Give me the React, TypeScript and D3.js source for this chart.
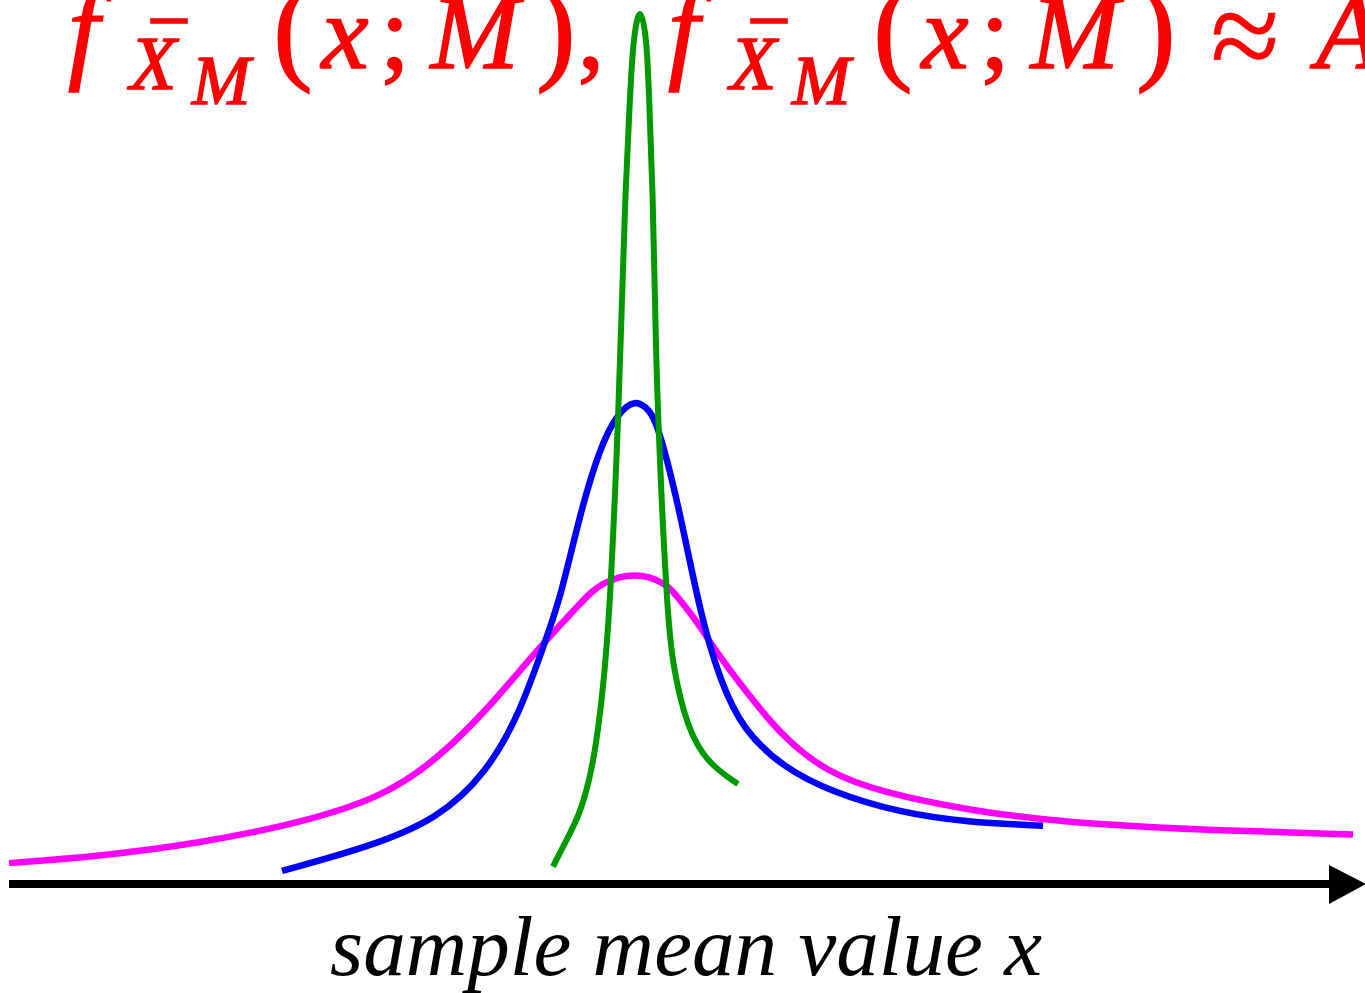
import React, { useEffect, useRef } from "react";
import * as d3 from "d3";

// sample mean x, density (peak of narrowest curve ~ 1)
const wideX = [-6.26, -5.35, -4.35, -3.35, -2.52, -1.98, -1.48, -0.98, -0.52, -0.35, 0, 0.32, 0.45, 0.62, 0.78, 1.15, 1.48, 1.92, 2.48, 3.32, 4.25, 5.65, 7.18];
const wideY = [0.024, 0.032, 0.047, 0.07, 0.1, 0.143, 0.2, 0.269, 0.326, 0.346, 0.359, 0.346, 0.326, 0.302, 0.272, 0.215, 0.169, 0.128, 0.105, 0.085, 0.071, 0.062, 0.057];

const midX = [-3.53, -2.65, -1.98, -1.48, -1.15, -0.92, -0.75, -0.55, -0.35, -0.18, 0, 0.15, 0.22, 0.42, 0.65, 0.85, 1.08, 1.48, 1.98, 2.65, 3.32, 4.08];
const midY = [0.015, 0.043, 0.074, 0.128, 0.197, 0.272, 0.326, 0.426, 0.502, 0.54, 0.558, 0.544, 0.53, 0.445, 0.311, 0.234, 0.177, 0.134, 0.105, 0.082, 0.071, 0.067];

const narrowX = [-0.82, -0.68, -0.55, -0.42, -0.33, -0.25, -0.16, -0.13, -0.1, -0.05, -0.02, 0.05, 0.12, 0.14, 0.18, 0.2, 0.22, 0.32, 0.38, 0.52, 0.72, 1.03];
const narrowY = [0.02, 0.052, 0.08, 0.134, 0.211, 0.311, 0.556, 0.671, 0.786, 0.905, 0.97, 1.015, 0.97, 0.905, 0.786, 0.671, 0.556, 0.311, 0.249, 0.18, 0.139, 0.115];

const series = [
  { name: "wide", xs: wideX, ys: wideY, color: "#ff00ff", w: 6.5 },
  { name: "mid", xs: midX, ys: midY, color: "#0000ff", w: 6.5 },
  { name: "narrow", xs: narrowX, ys: narrowY, color: "#009900", w: 6 },
];

const xLabel = "sample mean value x";

export default function App() {
  const ref = useRef<SVGSVGElement>(null);
  const width = 1365;
  const height = 993;

  useEffect(() => {
    const svg = d3.select(ref.current);
    svg.selectAll("*").remove();

    let x = d3.scaleLinear().domain([-6.35, 7.3]).range([0, width]);
    let y = d3.scaleLinear().domain([0, 1]).range([884, 14]);

    // title pieces (math italic), partly cut off at top
    const title = svg
      .append("g")
      .attr("fill", "#ff0000")
      .attr("stroke", "#ff0000")
      .attr("stroke-width", 1.6)
      .style("font-family", "'Liberation Serif', serif");

    function fx(x0: number) {
      title.append("text").attr("x", x0).attr("y", 68).attr("font-size", 112)
        .attr("font-style", "italic").text("f");
      title.append("text").attr("x", x0 + 62).attr("y", 89).attr("font-size", 76)
        .attr("font-style", "italic").text("X");
      title.append("rect").attr("x", x0 + 83).attr("y", 19).attr("width", 36).attr("height", 4);
      title.append("text").attr("x", x0 + 124).attr("y", 104).attr("font-size", 70)
        .attr("font-style", "italic").text("M");
    }
    function args(x0: number) {
      const pieces = [
        { t: "(", dx: 21, it: false },
        { t: "x", dx: 73, it: true },
        { t: ";", dx: 123, it: false },
        { t: "M", dx: 203, it: true },
        { t: ")", dx: 284, it: false },
      ];
      pieces.forEach((p) => {
        title.append("text").attr("x", x0 + p.dx).attr("y", 68)
          .attr("font-size", p.t === "(" || p.t === ")" ? 118 : 106)
          .attr("text-anchor", "middle")
          .attr("font-style", p.it ? "italic" : "normal").text(p.t);
      });
    }
    fx(68);
    args(272);
    title.append("text").attr("x", 591).attr("y", 68).attr("font-size", 106)
      .attr("text-anchor", "middle").text(",");
    fx(668);
    args(872);
    title.append("text").attr("x", 1245).attr("y", 78).attr("font-size", 126)
      .attr("stroke-width", 0.6)
      .attr("text-anchor", "middle").text("≈");
    title.append("text").attr("x", 1316).attr("y", 68).attr("font-size", 106)
      .attr("font-style", "italic").text("A");

    // curves
    const line = d3
      .line<[number, number]>()
      .x((d) => x(d[0]))
      .y((d) => y(d[1]))
      .curve(d3.curveBasis);

    series.forEach((s) => {
      const pts = s.xs.map((v, i) => [v, s.ys[i]] as [number, number]);
      svg.append("path")
        .attr("d", line(pts))
        .attr("fill", "none")
        .attr("stroke", s.color)
        .attr("stroke-width", s.w);
    });

    // x axis arrow
    const y0 = y(0);
    svg.append("line")
      .attr("x1", 9).attr("x2", 1332)
      .attr("y1", y0).attr("y2", y0)
      .attr("stroke", "black").attr("stroke-width", 8);
    svg.append("path")
      .attr("d", `M1329,${y0 - 19}L1366,${y0}L1329,${y0 + 20}Z`)
      .attr("fill", "black");

    svg.append("text")
      .attr("x", 686).attr("y", 975)
      .attr("text-anchor", "middle")
      .attr("font-size", 84)
      .attr("font-style", "italic")
      .style("font-family", "'Liberation Serif', serif")
      .attr("textLength", 712)
      .attr("lengthAdjust", "spacingAndGlyphs")
      .text(xLabel);
  }, []);

  return (
    <svg
      ref={ref}
      width={width}
      height={height}
      style={{ position: "absolute", left: 0, top: 0, display: "block", background: "white" }}
    />
  );
}
